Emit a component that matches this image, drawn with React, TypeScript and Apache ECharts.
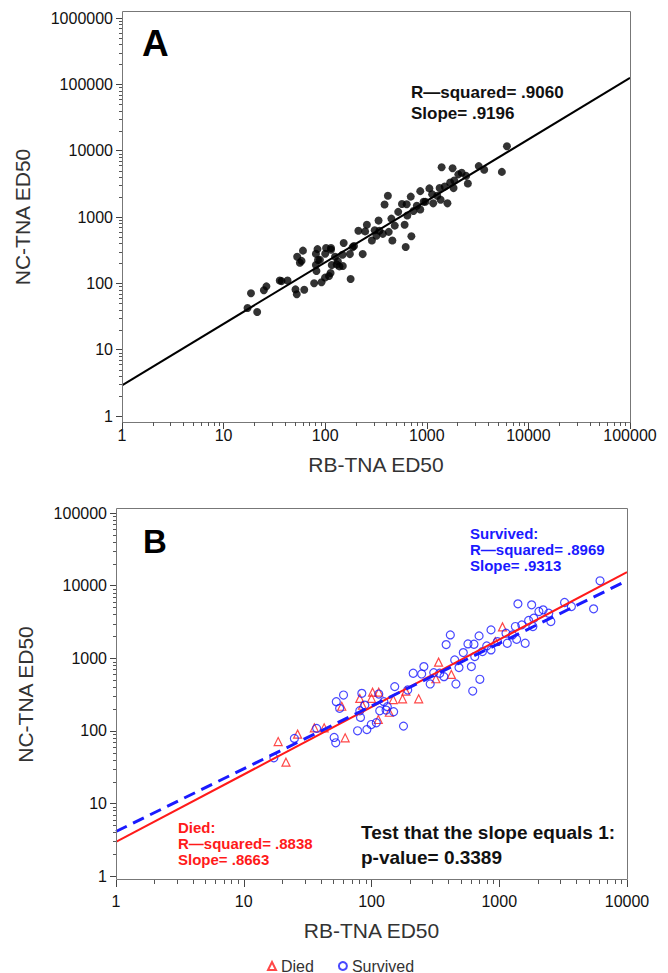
import React, { useEffect, useRef } from 'react';
import * as echarts from 'echarts';

// ---------- data ----------
const died: [number, number][] = [
  [18.6, 71], [21.4, 37], [26.4, 90], [35.7, 110], [42.6, 110], [58.5, 218], [62.2, 80],
  [81, 279], [85, 225], [102, 340], [100, 280], [113, 143], [114, 340], [138, 180],
  [148, 269], [175, 276], [186, 351], [234, 276], [319, 521], [335, 883], [422, 597],
  [931, 1700], [1060, 2700],
];

const survived: [number, number][] = [
  [17.2, 42.5], [24.9, 78.6], [37.2, 108], [51, 81], [52.5, 68.4], [53, 252], [56.3, 204],
  [60.4, 311], [77.8, 100], [81, 189], [82, 153], [84, 328], [88.7, 226], [92, 104],
  [99.6, 122], [109, 129], [114, 321], [116, 189], [125, 252], [130, 193], [133, 215],
  [149, 183], [152, 406], [178, 116], [192, 365], [212, 620], [247, 607], [257, 766],
  [288, 442], [307, 633], [342, 620], [369, 557], [384, 1540], [414, 2094], [448, 946],
  [458, 442], [484, 742], [523, 1195], [569, 1574], [605, 766], [620, 353], [634, 1556],
  [643, 1052], [695, 2029], [705, 512], [739, 1234], [798, 1477], [862, 1300], [862, 2455],
  [968, 1694], [1156, 1607], [1129, 2208], [1268, 2094], [1337, 2728], [1368, 1824],
  [1400, 5610], [1502, 2877], [1596, 1607], [1698, 3304], [1793, 5433], [1834, 2728],
  [1862, 3556], [2044, 4395], [2206, 4634], [2440, 4169], [2535, 3199], [3245, 5848],
  [3670, 5152], [5478, 4786], [6150, 11640],
];

// fitted lines (end points)
const fitAll: [number, number][] = [[1, 2.9], [100000, 125000]];
const fitDied: [number, number][] = [[1, 2.95], [10000, 15300]];
const fitSurvived: [number, number][] = [[1, 4.1], [10000, 11700]];

const xRangeA = [1, 100000];
const yRangeA = [1, 1000000];
const xRangeB = [1, 10000];
const yRangeB = [1, 100000];

const annotA = ['R\u2014squared= .9060', 'Slope= .9196'];
const annotSurvived = ['Survived:', 'R\u2014squared= .8969', 'Slope= .9313'];
const annotDied = ['Died:', 'R\u2014squared= .8838', 'Slope= .8663'];
const annotTest = ['Test that the slope equals 1:', 'p-value= 0.3389'];

const xTitle = 'RB-TNA ED50';
const yTitle = 'NC-TNA ED50';
const minorSteps = [2, 3, 4, 5, 6, 7, 8, 9];

// ---------- styling ----------
const FONT = "'Liberation Sans', Arial, Helvetica, sans-serif";
const AXIS_COLOR = '#444';
const MINOR_COLOR = '#555';
const RED = '#ff1a1a';
const BLUE = '#1a1aff';

const fmt = (v: number) => String(Math.round(v));

function minorValues(range: number[]) {
  const out: number[] = [];
  const d0 = Math.round(Math.log10(range[0]));
  const d1 = Math.round(Math.log10(range[1]));
  for (let d = d0; d < d1; d++) minorSteps.forEach((k) => out.push(k * Math.pow(10, d)));
  return out;
}

function xAxisCfg(grid: number, range: number[], split: number, offset: number, margin: number, nameGap: number) {
  return {
    type: 'log', logBase: 10, gridIndex: grid, position: 'bottom',
    min: range[0], max: range[1], splitNumber: split, offset,
    axisLine: { show: false },
    axisTick: { show: true, length: 7, lineStyle: { color: AXIS_COLOR, width: 1 } },
    minorTick: { show: false },
    splitLine: { show: false }, minorSplitLine: { show: false },
    axisLabel: { formatter: fmt, fontFamily: FONT, fontSize: 16, color: '#111', margin },
    name: xTitle, nameLocation: 'middle', nameGap,
    nameTextStyle: { fontFamily: FONT, fontSize: 21, color: '#333' },
  };
}

function yAxisCfg(grid: number, range: number[], split: number, margin: number, nameGap: number) {
  return {
    type: 'log', logBase: 10, gridIndex: grid, position: 'left',
    min: range[0], max: range[1], splitNumber: split,
    axisLine: { show: false },
    axisTick: { show: true, length: 6, lineStyle: { color: AXIS_COLOR, width: 1 } },
    minorTick: { show: false },
    splitLine: { show: false }, minorSplitLine: { show: false },
    axisLabel: { formatter: fmt, fontFamily: FONT, fontSize: 16, color: '#111', margin },
    name: yTitle, nameLocation: 'middle', nameGap, nameRotate: 90,
    nameTextStyle: { fontFamily: FONT, fontSize: 21, color: '#333' },
  };
}

// minor ticks (2..9 in each decade) drawn by a custom series through the axes' scales
function minorTickSeries(grid: number, axis: 'x' | 'y', values: number[], anchor: number, offset: number, len: number) {
  return {
    type: 'custom', coordinateSystem: 'cartesian2d', xAxisIndex: grid, yAxisIndex: grid,
    clip: false, silent: true, z: 60, legendHoverLink: false,
    data: values.map((v) => (axis === 'x' ? [v, anchor] : [anchor, v])),
    encode: { x: 0, y: 1 },
    renderItem: (_p: any, api: any) => {
      const pt = api.coord([api.value(0), api.value(1)]);
      const shape = axis === 'x'
        ? { x1: Math.round(pt[0]) + 0.5, y1: pt[1] + offset, x2: Math.round(pt[0]) + 0.5, y2: pt[1] + offset + len }
        : { x1: pt[0] - len, y1: Math.round(pt[1]) + 0.5, x2: pt[0], y2: Math.round(pt[1]) + 0.5 };
      return { type: 'line', shape, style: { stroke: MINOR_COLOR, lineWidth: 1, fill: null } };
    },
  };
}

function textLines(lines: string[], x: number, y0: number, dy: number, font: string, fill: string) {
  return lines.map((t, i) => ({
    type: 'text', x, y: y0 + i * dy, silent: true, z: 100,
    style: { text: t, font, fill, verticalAlign: 'middle', align: 'left' },
  }));
}

function baseGraphics() {
  return [
    {
      type: 'rect', silent: true, z: 50,
      shape: { x: 122.5, y: 11.5, width: 508, height: 411 },
      style: { fill: 'none', stroke: '#777', lineWidth: 1 },
    },
    {
      type: 'rect', silent: true, z: 50,
      shape: { x: 116.5, y: 508.5, width: 511, height: 371 },
      style: { fill: 'none', stroke: '#777', lineWidth: 1 },
    },
    {
      type: 'text', x: 142, y: 43, silent: true, z: 100,
      style: { text: 'A', font: `bold 37px ${FONT}`, fill: '#000', verticalAlign: 'middle' },
    },
    {
      type: 'text', x: 143, y: 541, silent: true, z: 100,
      style: { text: 'B', font: `bold 33px ${FONT}`, fill: '#000', verticalAlign: 'middle' },
    },
    ...textLines(annotA, 411, 92, 21, `bold 17px ${FONT}`, '#111'),
    ...textLines(annotSurvived, 470, 533, 16, `bold 15px ${FONT}`, BLUE),
    ...textLines(annotDied, 178, 827, 16, `bold 15px ${FONT}`, RED),
    ...textLines(annotTest, 361, 832, 25, `bold 19px ${FONT}`, '#111'),
  ];
}

function buildOption() {
  return {
    animation: false,
    backgroundColor: '#fff',
    grid: [
      { left: 122, top: 18, width: 508, height: 398 },
      { left: 116, top: 513, width: 511, height: 363 },
    ],
    xAxis: [
      xAxisCfg(0, xRangeA, 5, 6, 5, 32),
      xAxisCfg(1, xRangeB, 4, 4, 13, 40),
    ],
    yAxis: [
      yAxisCfg(0, yRangeA, 6, 9, 89),
      yAxisCfg(1, yRangeB, 5, 9, 80),
    ],
    legend: {
      data: ['Died', 'Survived'],
      left: 262, top: 953, itemWidth: 8, itemHeight: 8, itemGap: 24,
      textStyle: { fontFamily: FONT, fontSize: 16, color: '#333' },
    },
    series: [
      {
        name: 'All', type: 'scatter', xAxisIndex: 0, yAxisIndex: 0,
        data: died.concat(survived), symbol: 'circle', symbolSize: 8,
        itemStyle: { color: '#000' },
      },
      {
        name: 'FitAll', type: 'line', xAxisIndex: 0, yAxisIndex: 0, data: fitAll,
        symbol: 'none', lineStyle: { color: '#000', width: 2 }, z: 3,
      },
      {
        name: 'Died', type: 'scatter', xAxisIndex: 1, yAxisIndex: 1, data: died,
        symbol: 'triangle', symbolSize: 8,
        itemStyle: { color: 'rgba(255,255,255,0)', borderColor: RED, borderWidth: 1.2 },
      },
      {
        name: 'Survived', type: 'scatter', xAxisIndex: 1, yAxisIndex: 1, data: survived,
        symbol: 'circle', symbolSize: 8,
        itemStyle: { color: 'rgba(255,255,255,0)', borderColor: BLUE, borderWidth: 1.2 },
      },
      {
        name: 'FitDied', type: 'line', xAxisIndex: 1, yAxisIndex: 1, data: fitDied,
        symbol: 'none', lineStyle: { color: RED, width: 2 }, z: 3,
      },
      {
        name: 'FitSurvived', type: 'line', xAxisIndex: 1, yAxisIndex: 1, data: fitSurvived,
        symbol: 'none', lineStyle: { color: BLUE, width: 3, type: [12, 7] }, z: 3,
      },
      minorTickSeries(0, 'x', minorValues(xRangeA), yRangeA[0], 6, 4),
      minorTickSeries(0, 'y', minorValues(yRangeA), xRangeA[0], 0, 3),
      minorTickSeries(1, 'x', minorValues(xRangeB), yRangeB[0], 4, 4),
      minorTickSeries(1, 'y', minorValues(yRangeB), xRangeB[0], 0, 3),
    ],
    graphic: baseGraphics(),
  };
}

export default function App() {
  const ref = useRef<HTMLDivElement>(null);
  useEffect(() => {
    if (!ref.current) return;
    const chart = echarts.init(ref.current, null, { renderer: 'svg', width: 668, height: 973 });
    chart.setOption(buildOption() as any);
    return () => chart.dispose();
  }, []);
  return (
    <div
      ref={ref}
      style={{ position: 'absolute', left: 0, top: 0, width: 668, height: 973, background: '#fff' }}
    />
  );
}
